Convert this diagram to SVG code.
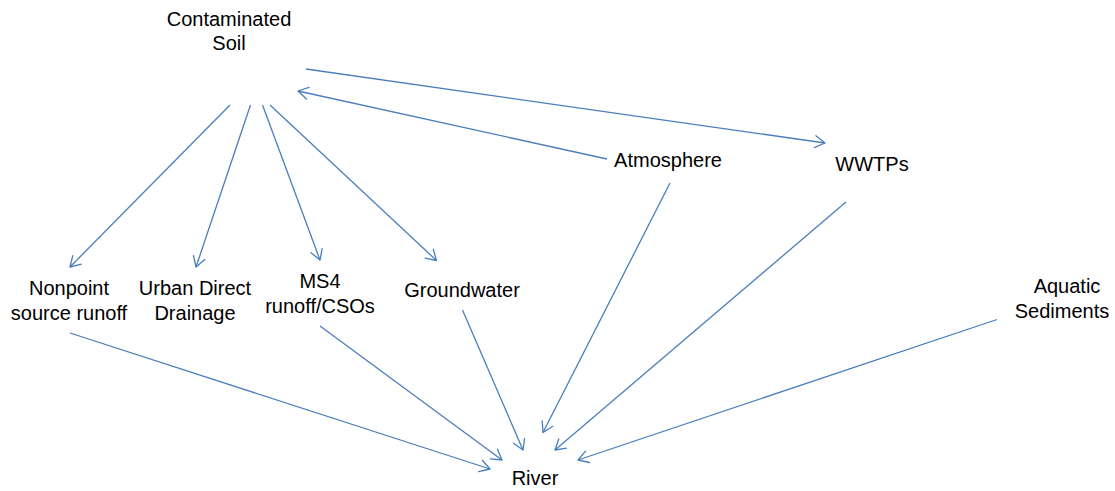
<svg xmlns="http://www.w3.org/2000/svg" width="1115" height="491" viewBox="0 0 1115 491">
<style>
.lbl{font-family:"Liberation Sans",Arial,sans-serif;font-size:20px;fill:#000;text-anchor:middle}
.edge{stroke:#4A7EBB;stroke-width:1.3;fill:none;marker-end:url(#arr)}
</style>
<defs>
<marker id="arr" markerUnits="userSpaceOnUse" viewBox="-12 -8 14 16" markerWidth="14" markerHeight="16" refX="0" refY="0" orient="auto">
<path d="M-10,-6 L0,0 L-10,6" fill="none" stroke="#4A7EBB" stroke-width="1.3" stroke-linecap="round" stroke-linejoin="round"/>
</marker>
</defs>
<rect width="1115" height="491" fill="#fff"/>
<g id="connectors">
<line class="edge" x1="306" y1="69" x2="825" y2="143"/>
<line class="edge" x1="607" y1="159" x2="298" y2="91"/>
<line class="edge" x1="230" y1="105" x2="70" y2="267"/>
<line class="edge" x1="250.5" y1="105" x2="196" y2="267"/>
<line class="edge" x1="262.5" y1="105" x2="320" y2="260"/>
<line class="edge" x1="270" y1="105" x2="436.5" y2="260.5"/>
<line class="edge" x1="70" y1="333" x2="490" y2="469"/>
<line class="edge" x1="320" y1="326" x2="502" y2="460"/>
<line class="edge" x1="462.5" y1="310" x2="523" y2="450"/>
<line class="edge" x1="670" y1="183" x2="543" y2="432.5"/>
<line class="edge" x1="846" y1="202" x2="555" y2="450"/>
<line class="edge" x1="997" y1="319.5" x2="578" y2="460"/>
</g>
<g id="node-soil"><text class="lbl" x="229" y="26">Contaminated</text><text class="lbl" x="229" y="50">Soil</text></g>
<g id="node-nonpoint"><text class="lbl" x="69" y="295">Nonpoint</text><text class="lbl" x="69" y="320">source runoff</text></g>
<g id="node-urban"><text class="lbl" x="195" y="295">Urban Direct</text><text class="lbl" x="195" y="320">Drainage</text></g>
<g id="node-ms4"><text class="lbl" x="320" y="288">MS4</text><text class="lbl" x="320" y="313">runoff/CSOs</text></g>
<g id="node-groundwater"><text class="lbl" x="462" y="297">Groundwater</text></g>
<g id="node-atmosphere"><text class="lbl" x="668" y="167">Atmosphere</text></g>
<g id="node-wwtps"><text class="lbl" x="872" y="171">WWTPs</text></g>
<g id="node-aquatic"><text class="lbl" x="1067" y="293">Aquatic</text><text class="lbl" x="1062" y="318">Sediments</text></g>
<g id="node-river"><text class="lbl" x="535" y="485">River</text></g>
</svg>
